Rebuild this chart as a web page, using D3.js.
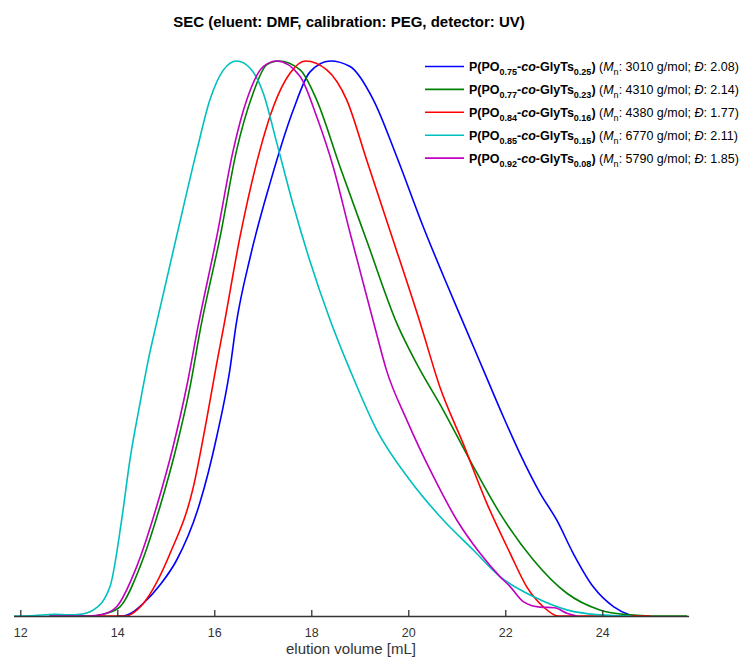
<!DOCTYPE html>
<html>
<head>
<meta charset="utf-8">
<script src="https://cdn.jsdelivr.net/npm/d3@7"></script>
<style>
  body { margin: 0; background: #fff; }
  svg { display: block; font-family: "Liberation Sans", Arial, sans-serif; }
</style>
</head>
<body>
<svg id="chart" width="744" height="659"></svg>
<script>
// elution volume [mL] / normalised UV signal
const blue = [
  [14.0, 0], [14.1, 0], [14.3, 0.006], [14.54, 0.023], [14.9, 0.058], [15.22, 0.1],
  [15.7, 0.203], [16.05, 0.323], [16.32, 0.443], [16.45, 0.525], [16.75, 0.65],
  [17.15, 0.78], [17.63, 0.912], [17.97, 0.98], [18.39, 1], [18.8, 0.99], [19.28, 0.93],
  [19.76, 0.828], [20.31, 0.701], [20.79, 0.599], [21.15, 0.525], [21.55, 0.443],
  [21.96, 0.359], [22.3, 0.293], [22.72, 0.221], [23.06, 0.173], [23.4, 0.113],
  [23.81, 0.053], [24.23, 0.017], [24.57, 0.002], [24.65, 0]
];
const green = [
  [12.6, 0], [13.5, 0], [13.75, 0.004], [14.06, 0.017], [14.47, 0.089], [14.88, 0.197],
  [15.22, 0.305], [15.5, 0.413], [15.72, 0.52], [16.12, 0.683], [16.46, 0.839],
  [16.8, 0.942], [17.08, 0.993], [17.33, 1], [17.77, 0.984], [18.11, 0.93], [18.59, 0.81],
  [19.14, 0.677], [19.78, 0.524], [20.17, 0.455], [20.72, 0.371], [21.27, 0.281],
  [21.89, 0.185], [22.58, 0.101], [23.27, 0.041], [23.95, 0.011], [24.57, 0.002],
  [25.0, 0], [25.75, 0]
];
const red = [
  [13.5, 0], [14.2, 0], [14.3, 0.004], [14.54, 0.023], [15.09, 0.113], [15.57, 0.233],
  [15.84, 0.353], [16.05, 0.455], [16.2, 0.524], [16.53, 0.683], [16.94, 0.839],
  [17.22, 0.918], [17.56, 0.978], [17.88, 1], [18.32, 0.984], [18.73, 0.93], [19.14, 0.822],
  [19.62, 0.695], [20.26, 0.524], [20.65, 0.413], [21.13, 0.311], [21.62, 0.203],
  [22.1, 0.113], [22.44, 0.053], [22.78, 0.017], [23.09, 0], [25.0, 0]
];
const cyan = [
  [11.87, 0], [12.3, 0.001], [12.7, 0.003], [13.0, 0.002], [13.23, 0.003], [13.51, 0.011],
  [13.85, 0.053], [14.09, 0.173], [14.26, 0.281], [14.47, 0.384], [14.67, 0.474],
  [14.8, 0.524], [15.22, 0.683], [15.64, 0.839], [15.91, 0.93], [16.19, 0.984], [16.46, 1],
  [16.74, 0.987], [17.01, 0.942], [17.29, 0.852], [17.63, 0.74], [17.97, 0.64],
  [18.39, 0.533], [18.8, 0.443], [19.35, 0.335], [20.03, 0.245], [20.72, 0.173],
  [21.34, 0.119], [21.89, 0.071], [22.58, 0.035], [23.27, 0.011], [23.95, 0.002], [24.6, 0]
];
const magenta = [
  [12.6, 0], [13.4, 0], [13.7, 0.003], [13.99, 0.017], [14.4, 0.089], [14.81, 0.197],
  [15.15, 0.305], [15.43, 0.413], [15.67, 0.524], [16.05, 0.683], [16.39, 0.839],
  [16.67, 0.93], [17.01, 0.99], [17.29, 1], [17.77, 0.972], [18.11, 0.9], [18.45, 0.81],
  [18.8, 0.69], [19.3, 0.524], [19.55, 0.443], [19.97, 0.353], [20.52, 0.251], [21.0, 0.173],
  [21.48, 0.113], [21.89, 0.071], [22.1, 0.053], [22.37, 0.026], [22.72, 0.016],
  [23.02, 0.015], [23.27, 0.005], [23.48, 0]
];

const seriesData = [blue, green, red, cyan, magenta];
const seriesColors = ["#0000ff", "#008000", "#ff0000", "#00bfbf", "#bf00bf"];
const poFractions = ["0.75", "0.77", "0.84", "0.85", "0.92"];
const glyFractions = ["0.25", "0.23", "0.16", "0.15", "0.08"];
const mnValues = ["3010", "4310", "4380", "6770", "5790"];
const dispersities = ["2.08", "2.14", "1.77", "2.11", "1.85"];
const xTicks = [12, 14, 16, 18, 20, 22, 24];

const svg = d3.select("#chart");

const x = d3.scaleLinear().domain([11.86, 25.78]).range([13.5, 688.6]);
const y = d3.scaleLinear().domain([0, 1]).range([616, 61]);

// --- Title ---
svg.append("text")
  .attr("x", 349)
  .attr("y", 27)
  .attr("text-anchor", "middle")
  .style("font-size", "15px")
  .style("font-weight", "bold")
  .style("fill", "#000")
  .text("SEC (eluent: DMF, calibration: PEG, detector: UV)");

// --- Curves ---
const line = d3.line()
  .x((d) => x(d[0]))
  .y((d) => y(d[1]))
  .curve(d3.curveMonotoneX);

svg.append("g")
  .selectAll("path")
  .data(seriesData)
  .enter()
  .append("path")
  .attr("d", line)
  .attr("fill", "none")
  .attr("stroke", (d, i) => seriesColors[i])
  .attr("stroke-width", 1.6)
  .attr("stroke-linejoin", "round");

// --- X axis (ticks point inwards) ---
const axis = svg.append("g")
  .attr("transform", "translate(0, 616)")
  .call(
    d3.axisBottom(x)
      .tickValues(xTicks)
      .tickSizeInner(-6)
      .tickSizeOuter(0)
      .tickPadding(12)
  );
axis.select(".domain").attr("stroke", "#333").attr("stroke-width", 1.6);
axis.selectAll(".tick line").attr("stroke", "#333").attr("stroke-width", 1.3);
axis.selectAll(".tick text")
  .style("font-size", "12.5px")
  .style("font-family", "'Liberation Sans', Arial, sans-serif")
  .style("fill", "#333");

svg.append("text")
  .attr("x", 351)
  .attr("y", 654)
  .attr("text-anchor", "middle")
  .style("font-size", "15px")
  .style("fill", "#333")
  .text("elution volume [mL]");

// --- Legend ---
const legend = svg.append("g").attr("transform", "translate(425, 66.5)");
seriesColors.forEach((color, i) => {
  const row = legend.append("g").attr("transform", `translate(0, ${i * 22.9})`);
  row.append("line")
    .attr("x1", 0).attr("x2", 39)
    .attr("stroke", color)
    .attr("stroke-width", 1.6);

  const t = row.append("text")
    .attr("x", 44)
    .attr("y", 4.5)
    .style("font-size", "12.5px")
    .style("fill", "#000");
  t.append("tspan").style("font-weight", "bold").text("P(PO");
  t.append("tspan").style("font-weight", "bold").style("font-size", "9px").attr("dy", 4).text(poFractions[i]);
  t.append("tspan").style("font-weight", "bold").attr("dy", -4).text("-");
  t.append("tspan").style("font-weight", "bold").style("font-style", "italic").text("co");
  t.append("tspan").style("font-weight", "bold").text("-GlyTs");
  t.append("tspan").style("font-weight", "bold").style("font-size", "9px").attr("dy", 4).text(glyFractions[i]);
  t.append("tspan").style("font-weight", "bold").attr("dy", -4).text(")");
  t.append("tspan").text(" (");
  t.append("tspan").style("font-style", "italic").text("M");
  t.append("tspan").style("font-size", "9px").attr("dy", 4).text("n");
  t.append("tspan").attr("dy", -4).text(`: ${mnValues[i]} g/mol; `);
  t.append("tspan").style("font-style", "italic").text("Đ");
  t.append("tspan").text(`: ${dispersities[i]})`);
});
</script>
</body>
</html>
